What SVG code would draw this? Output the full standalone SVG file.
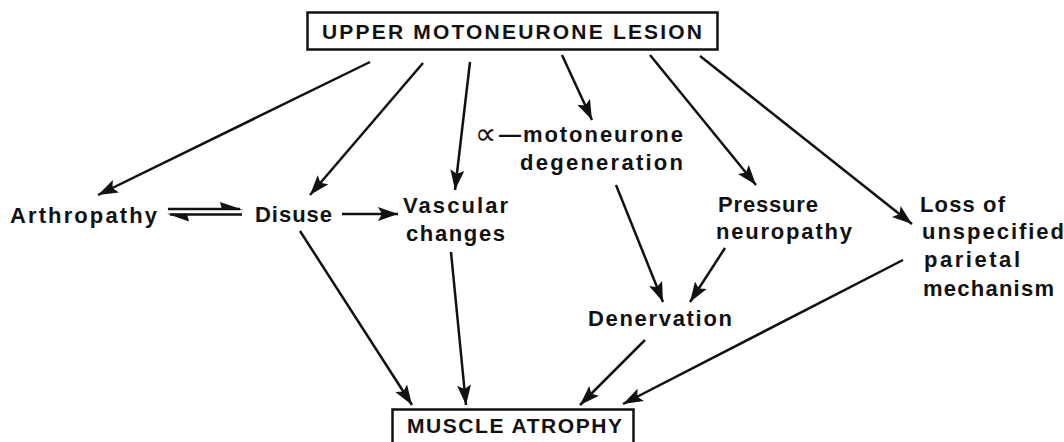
<svg xmlns="http://www.w3.org/2000/svg" width="1064" height="442" viewBox="0 0 1064 442">
<style>
  text { font-family: "Liberation Sans", "DejaVu Sans", sans-serif; font-weight: bold; fill: #111; }
  .t { font-size: 22px; }
  .title { font-size: 21px; }
  .alpha { font-family: "DejaVu Sans", sans-serif; font-size: 30px; font-weight: normal; }
  .box { fill: #fff; stroke: #111; stroke-width: 2.5; }
  .c { fill: none; stroke: #111; stroke-width: 2.5; marker-end: url(#ah); }
  .h { fill: none; stroke: #111; stroke-width: 2.5; }
  .barb { fill: #111; }
</style>
<defs>
  <marker id="ah" markerUnits="userSpaceOnUse" markerWidth="22" markerHeight="16" refX="20" refY="7.5" orient="auto">
    <path d="M0,0.5 L20,7.5 L0,14.5 L4,7.5 Z" fill="#111"/>
  </marker>
</defs>
<rect width="1064" height="442" fill="#fff"/>

<g id="connectors">
  <line class="c" x1="370" y1="62" x2="98" y2="195"/>
  <line class="c" x1="423" y1="63" x2="310" y2="195"/>
  <line class="c" x1="470" y1="62" x2="455" y2="190"/>
  <line class="c" x1="562" y1="55" x2="592" y2="120"/>
  <line class="c" x1="650" y1="55" x2="756" y2="185"/>
  <line class="c" x1="700" y1="56" x2="912" y2="224"/>
  <line class="c" x1="342" y1="214" x2="398" y2="214"/>
  <line class="c" x1="300" y1="231" x2="412" y2="405"/>
  <line class="c" x1="451" y1="252" x2="466" y2="405"/>
  <line class="c" x1="616" y1="185" x2="663" y2="302"/>
  <line class="c" x1="725" y1="248" x2="690" y2="302"/>
  <line class="c" x1="645" y1="340" x2="580" y2="405"/>
  <line class="c" x1="903" y1="260" x2="623" y2="404"/>
  <g id="equilibrium">
    <line class="h" x1="168" y1="209" x2="240" y2="209"/>
    <polygon class="barb" points="243,209.8 220,202 222,209.8"/>
    <line class="h" x1="170" y1="214.5" x2="242" y2="214.5"/>
    <polygon class="barb" points="167,213.7 189,221.5 187,213.7"/>
  </g>
</g>

<g id="upper-motoneurone-lesion">
  <rect class="box" x="307.5" y="12.5" width="410" height="37"/>
  <text class="title" x="322" y="38.5" textLength="380" lengthAdjust="spacing">UPPER MOTONEURONE LESION</text>
</g>

<g id="arthropathy">
  <text class="t" x="10" y="223" textLength="147" lengthAdjust="spacing">Arthropathy</text>
</g>

<g id="disuse">
  <text class="t" x="255" y="222" textLength="77" lengthAdjust="spacing">Disuse</text>
</g>

<g id="vascular-changes">
  <text class="t" x="403" y="213" textLength="105" lengthAdjust="spacing">Vascular</text>
  <text class="t" x="406" y="241" textLength="99" lengthAdjust="spacing">changes</text>
</g>

<g id="motoneurone-degeneration">
  <text class="alpha" x="475" y="144">∝</text>
  <text class="t" x="499" y="142" textLength="184" lengthAdjust="spacing">—motoneurone</text>
  <text class="t" x="520" y="170" textLength="163" lengthAdjust="spacing">degeneration</text>
</g>

<g id="pressure-neuropathy">
  <text class="t" x="718" y="212" textLength="100" lengthAdjust="spacing">Pressure</text>
  <text class="t" x="716" y="239" textLength="136" lengthAdjust="spacing">neuropathy</text>
</g>

<g id="loss-of-parietal-mechanism">
  <text class="t" x="920" y="212" textLength="85" lengthAdjust="spacing">Loss of</text>
  <text class="t" x="922" y="239" textLength="142" lengthAdjust="spacing">unspecified</text>
  <text class="t" x="924" y="267" textLength="96" lengthAdjust="spacing">parietal</text>
  <text class="t" x="923" y="296" textLength="131" lengthAdjust="spacing">mechanism</text>
</g>

<g id="denervation">
  <text class="t" x="588" y="326" textLength="144" lengthAdjust="spacing">Denervation</text>
</g>

<g id="muscle-atrophy">
  <rect class="box" x="392.5" y="409.5" width="241" height="50"/>
  <text class="title" x="407" y="432.5" textLength="215" lengthAdjust="spacing">MUSCLE ATROPHY</text>
</g>
</svg>
